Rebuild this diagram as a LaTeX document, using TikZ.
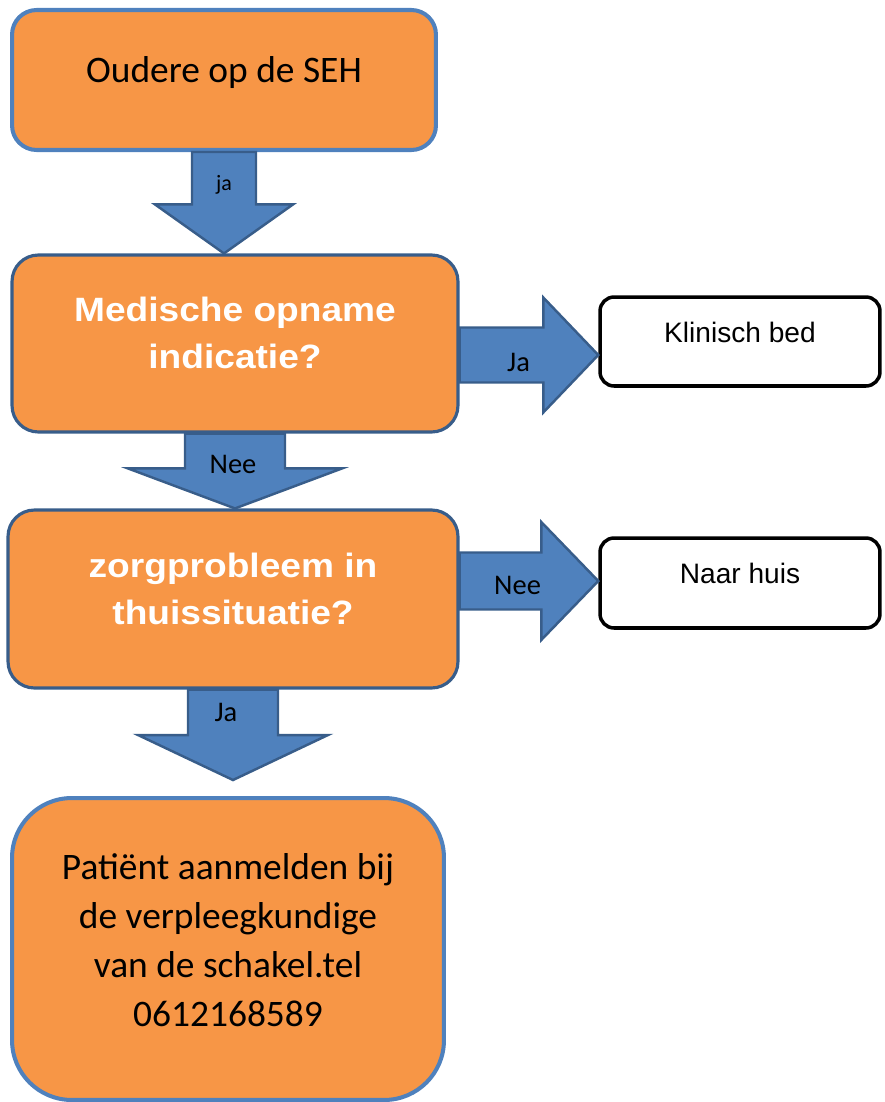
\documentclass[tikz,border=0pt]{standalone}
\usepackage{fontspec}
\setmainfont{Carlito}
\newfontfamily\arialfont{Liberation Sans}
\newfontfamily\arialwide[FakeStretch=1.1]{Liberation Sans Bold}
\usetikzlibrary{calc}

\definecolor{boxorange}{HTML}{F79646}
\definecolor{lightblue}{HTML}{4F81BD}
\definecolor{darkblue}{HTML}{385D8A}

\tikzset{
  orangebox/.style={draw=lightblue, fill=boxorange, line width=2.3pt, align=center,
    font=\fontsize{21.3}{27.9}\selectfont},
  questionbox/.style={draw=darkblue, fill=boxorange, line width=1.8pt, rounded corners=15pt,
    align=center, text=white, font=\arialwide\fontsize{19.2}{26.7}\selectfont},
  whitebox/.style={draw=black, fill=white, line width=2pt, rounded corners=8pt,
    font=\arialfont\fontsize{16}{19}\selectfont, text depth=10.5pt},
  blockarrow/.style={draw=darkblue, fill=lightblue, line width=1.4pt, line join=miter},
  arrowlbl/.style={font=\fontsize{16.2}{19}\selectfont, inner sep=0pt}
}

% block arrows: start, tip, shaft half width, head half width, head length (px)
\newcommand{\blockdown}[5]{%
  \draw[blockarrow] let \p1=(#1), \p2=(#2) in
    (\x1-#3*0.569pt,\y1) -- (\x1+#3*0.569pt,\y1)
    -- (\x1+#3*0.569pt,\y2+#5*0.569pt) -- (\x1+#4*0.569pt,\y2+#5*0.569pt)
    -- (\x1,\y2) -- (\x1-#4*0.569pt,\y2+#5*0.569pt)
    -- (\x1-#3*0.569pt,\y2+#5*0.569pt) -- cycle;}
\newcommand{\blockright}[5]{%
  \draw[blockarrow] let \p1=(#1), \p2=(#2) in
    (\x1,\y2+#3*0.569pt) -- (\x2-#5*0.569pt,\y2+#3*0.569pt)
    -- (\x2-#5*0.569pt,\y2+#4*0.569pt) -- (\x2,\y2)
    -- (\x2-#5*0.569pt,\y2-#4*0.569pt) -- (\x2-#5*0.569pt,\y2-#3*0.569pt)
    -- (\x1,\y2-#3*0.569pt) -- cycle;}

\begin{document}
\begin{tikzpicture}[x=0.02cm, y=-0.02cm]
\useasboundingbox (0,0) rectangle (885,1102);
% Boxes
\node[orangebox, rounded corners=14pt, minimum width=8.48cm, minimum height=2.8cm, text depth=12pt]
  (seh) at (224,80) {Oudere op de SEH};
\node[questionbox, minimum width=8.92cm, minimum height=3.54cm, text depth=12pt]
  (opname) at (235,343.5) {Medische opname\\indicatie?};
\node[whitebox, minimum width=5.6cm, minimum height=1.78cm] (bed) at (740,341.5) {Klinisch bed};
\node[questionbox, minimum width=9cm, minimum height=3.56cm, text depth=12pt]
  (zorg) at (233,599) {zorgprobleem in\\thuissituatie?};
\node[whitebox, minimum width=5.6cm, minimum height=1.8cm] (huis) at (740,583) {Naar huis};
\node[orangebox, rounded corners=34pt, minimum width=8.64cm, minimum height=6.04cm, text depth=10pt]
  (aanmeld) at (228,949) {Patiënt aanmelden bij\\de verpleegkundige\\van de schakel.tel\\0612168589};
% Arrows
\blockdown{seh.south}{opname.north}{32}{69}{49}
\blockright{opname.east}{$(bed.west)+(0,13.5)$}{27.5}{57.5}{55}
\blockdown{opname.south}{zorg.north}{50}{107}{40}
\blockright{zorg.east}{$(huis.west)+(0,-2)$}{28.5}{59}{57}
\blockdown{zorg.south}{$(aanmeld.north)+(0,-16)$}{45}{95}{45}
% Labels
\node[arrowlbl, font=\fontsize{12.5}{15}\selectfont] (jaone) at ($(seh.south)+(0,33)$) {ja};
\node[arrowlbl] (jatwo) at ($(opname.east)+(59,18.5)$) {Ja};
\node[arrowlbl] (neeone) at ($(opname.south)+(-2,31)$) {Nee};
\node[arrowlbl] (neetwo) at ($(zorg.east)+(58,-14)$) {Nee};
\node[arrowlbl] (jathree) at ($(zorg.south)+(-7,23)$) {Ja};
\end{tikzpicture}
\end{document}
